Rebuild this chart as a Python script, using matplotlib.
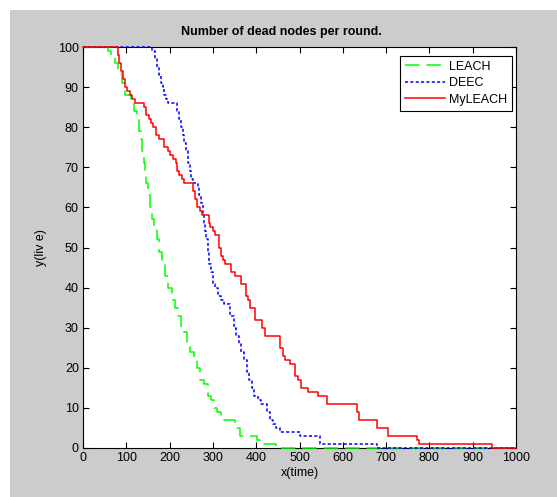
import matplotlib
matplotlib.use("Agg")
import matplotlib.pyplot as plt
from matplotlib.patches import Rectangle

# step data: y holds from x[i] until x[i+1]
leach_x = [0, 58, 65, 73, 80, 90, 97, 110, 118, 124, 129, 133, 137, 140, 143, 146,
           150, 155, 160, 165, 170, 176, 182, 190, 197, 205, 213, 220, 226, 233,
           240, 248, 256, 263, 270, 280, 288, 295, 302, 310, 318, 325, 352, 362,
           402, 412, 420, 445, 1000]
leach_y = [100, 99, 98, 96, 94, 91, 88, 87, 84, 82, 79, 77, 74, 71, 69, 66,
           63, 60, 57, 55, 52, 49, 46, 43, 40, 37, 35, 33, 30, 29,
           26, 24, 22, 20, 17, 16, 13, 12, 10, 9, 8, 7, 5, 3,
           2, 1, 1, 0, 0]

deec_x = [0, 160, 166, 172, 176, 180, 184, 188, 192, 197, 218, 222, 226, 230, 234,
          238, 242, 246, 250, 254, 266, 269, 272, 276, 279, 282, 285, 288, 291,
          296, 300, 306, 312, 318, 326, 340, 348, 354, 360, 366, 371, 378, 384,
          390, 396, 404, 412, 425, 432, 438, 445, 455, 500, 547, 678, 1000]
deec_y = [100, 99, 97, 95, 93, 91, 90, 88, 87, 86, 84, 82, 80, 78, 76,
          74, 71, 69, 67, 66, 65, 63, 61, 58, 56, 54, 52, 49, 46,
          44, 41, 40, 38, 37, 36, 33, 30, 28, 26, 24, 22, 19, 17,
          15, 13, 12, 11, 9, 7, 6, 5, 4, 3, 1, 0, 0]

my_x = [0, 80, 84, 88, 92, 97, 102, 108, 114, 120, 140, 146, 152, 158, 162, 168,
        176, 188, 196, 202, 208, 214, 218, 222, 228, 234, 255, 259, 264, 270, 274,
        290, 294, 300, 305, 313, 318, 323, 328, 341, 351, 366, 376, 381, 385, 398,
        413, 421, 454, 462, 467, 479, 490, 497, 503, 520, 542, 564, 633, 637, 680,
        704, 771, 777, 944, 1000]
my_y = [100, 98, 96, 94, 92, 90, 89, 88, 87, 86, 85, 83, 82, 81, 80, 78,
        77, 75, 74, 73, 72, 71, 69, 68, 67, 66, 64, 62, 60, 59, 58,
        56, 55, 54, 53, 50, 48, 47, 46, 44, 43, 41, 38, 37, 35, 32,
        30, 28, 25, 23, 22, 21, 18, 17, 15, 14, 13, 11, 9, 7, 5,
        3, 2, 1, 0, 0]

plt.rcParams["font.family"] = ["Liberation Sans", "DejaVu Sans"]

W, H = 557, 497
fig = plt.figure(figsize=(W / 100, H / 100), dpi=100)
fig.patch.set_facecolor("white")
fig.add_artist(Rectangle((10 / W, 0), 1, (H - 10) / H, transform=fig.transFigure,
                         facecolor="#cccccc", edgecolor="none", zorder=-10))

ax = fig.add_axes([83 / W, 49 / H, 433 / W, 401 / H])
# lines sit on top of the box, like matlab draws them
ax.plot(leach_x, leach_y, drawstyle="steps-post", color="#00ff00", lw=1.1,
        dashes=(9.5, 4.5), label="LEACH", zorder=3, clip_on=False)
ax.plot(deec_x, deec_y, drawstyle="steps-post", color="#0000ff", lw=1.1,
        dashes=(2, 1.5), label="DEEC", zorder=3, clip_on=False)
ax.plot(my_x, my_y, drawstyle="steps-post", color="#ff0000", lw=1.1,
        label="MyLEACH", zorder=3, clip_on=False)

ax.set_xlim(0, 1000)
ax.set_ylim(0, 100)
ax.set_xticks(range(0, 1001, 100))
ax.set_yticks(range(0, 101, 10))
ax.tick_params(direction="in", top=True, right=True, length=4, width=0.8,
               labelsize=9, pad=3)
for s in ax.spines.values():
    s.set_linewidth(0.8)

ax.set_title("Number of dead nodes per round.", fontsize=9, fontweight="bold",
             x=0.457, pad=9)
ax.set_xlabel("x(time)", fontsize=9, labelpad=2)
ax.set_ylabel("y(liv e)", fontsize=9, labelpad=8)

leg = ax.legend(loc="upper right", bbox_to_anchor=(0.991, 0.978), borderaxespad=0,
                fontsize=9, handlelength=3.2, handletextpad=0.3, fancybox=False,
                framealpha=1, edgecolor="black", borderpad=0.4, labelspacing=0.35)
leg.get_frame().set_linewidth(0.8)
leg.set_zorder(5)

fig.savefig("out.png", dpi=100)
